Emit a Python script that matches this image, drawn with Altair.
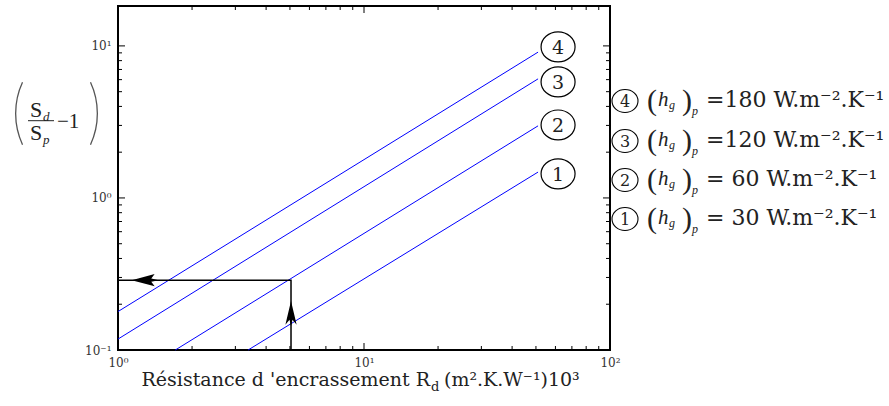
import altair as alt
import pandas as pd

# ---------------- data ----------------
line_ids = ["1", "2", "3", "4"]
rd_start = [3.38, 1.71, 1.0, 1.0]
s_start = [0.1, 0.1, 0.118, 0.179]
rd_end = [51.0, 51.0, 51.0, 51.0]
s_end = [1.48, 2.98, 6.07, 9.1]

label_rd = [61.5, 61.5, 61.5, 61.5]
label_s = [1.44, 3.02, 5.8, 9.85]

legend_ids = ["4", "3", "2", "1"]
legend_text = ["=180 W.m⁻².K⁻¹", "=120 W.m⁻².K⁻¹", "= 60 W.m⁻².K⁻¹", "= 30 W.m⁻².K⁻¹"]

guide_rd = [1.0, 5.05, 5.05]
guide_s = [0.288, 0.288, 0.1]

arrow_rd = [1.29, 5.05]
arrow_s = [0.288, 0.174]

x_label_values = [1, 10, 100]
y_label_values = [0.1, 1, 10]
x_major = [10]
x_minor = [2, 3, 4, 5, 6, 7, 8, 9, 20, 30, 40, 50, 60, 70, 80, 90]
y_major = [1, 10]
y_minor = [0.2, 0.3, 0.4, 0.5, 0.6, 0.7, 0.8, 0.9, 2, 3, 4, 5, 6, 7, 8, 9]

x_title_parts = ["Résistance d 'encrassement R", "d", "(m².K.W⁻¹)10³"]
y_title_parts = ["S", "d", "S", "p", "−1"]
hg_parts = ["(", "h", "g", ")", "p"]

# ---------------- layout / style ----------------
W, H = 492, 344
SERIF = "DejaVu Serif"
TIMES = "Liberation Serif"
INK = "#222222"
BLUE = "#0000ff"

xs = alt.Scale(type="log", domain=[1, 100], nice=False)
ys = alt.Scale(type="log", domain=[0.1, 18.3], nice=False)
xaxis = alt.Axis(values=x_label_values, ticks=False, domain=False, grid=False, title=None,
                 labelExpr="datum.value < 5 ? '10⁰' : datum.value < 50 ? '10¹' : '10²'",
                 labelFont=SERIF, labelFontSize=12, labelColor="#333333", labelPadding=7,
                 labelFlush=False, labelOverlap=False)
yaxis = alt.Axis(values=y_label_values, ticks=False, domain=False, grid=False, title=None,
                 labelExpr="datum.value < 0.5 ? '10⁻¹' : datum.value < 5 ? '10⁰' : '10¹'",
                 labelFont=SERIF, labelFontSize=12, labelColor="#333333", labelPadding=7,
                 labelFlush=False, labelOverlap=False)


def X(f):
    return alt.X(f"{f}:Q", scale=xs, axis=xaxis)


def Y(f):
    return alt.Y(f"{f}:Q", scale=ys, axis=yaxis)


layers = []

# blue lines
rows = []
for i, lid in enumerate(line_ids):
    rows.append({"id": lid, "rd": rd_start[i], "s": s_start[i]})
    rows.append({"id": lid, "rd": rd_end[i], "s": s_end[i]})
lines_df = pd.DataFrame(rows)
layers.append(alt.Chart(lines_df).mark_line(color=BLUE, strokeWidth=1).encode(
    x=X("rd"), y=Y("s"), detail="id:N"))

# black guide
guide_df = pd.DataFrame({"rd": guide_rd, "s": guide_s, "o": list(range(len(guide_rd)))})
layers.append(alt.Chart(guide_df).mark_line(color="black", strokeWidth=1.5).encode(
    x=X("rd"), y=Y("s"), order="o:Q"))

# arrowheads
LEFT_DART = "M -1 0 L 0.7 -0.45 L 0.45 -0.12 L 1 0 L 0.45 0.12 L 0.7 0.45 Z"
UP_DART = "M 0 -1 L 0.45 0.9 L 0.12 0.5 L 0 1 L -0.12 0.5 L -0.45 0.9 Z"
a0 = pd.DataFrame({"rd": [arrow_rd[0]], "s": [arrow_s[0]]})
a1 = pd.DataFrame({"rd": [arrow_rd[1]], "s": [arrow_s[1]]})
layers.append(alt.Chart(a0).mark_point(shape=LEFT_DART, filled=True, color="black", opacity=1,
                                       size=27 * 27).encode(x=X("rd"), y=Y("s")))
layers.append(alt.Chart(a1).mark_point(shape=UP_DART, filled=True, color="black", opacity=1,
                                       size=25 * 25).encode(x=X("rd"), y=Y("s")))

# circled labels at line ends
ELLIPSE = "M -1 0 A 1 0.88 0 1 1 1 0 A 1 0.88 0 1 1 -1 0 Z"
lab_df = pd.DataFrame({"id": line_ids, "rd": label_rd, "s": label_s})
layers.append(alt.Chart(lab_df).mark_point(shape=ELLIPSE, filled=False, color="black",
                                           strokeWidth=1.2, opacity=1, size=34 * 34).encode(
    x=X("rd"), y=Y("s")))
layers.append(alt.Chart(lab_df).mark_text(font=SERIF, fontSize=19, color=INK, baseline="middle",
                                          align="center", dy=1).encode(
    x=X("rd"), y=Y("s"), text="id:N"))

# inward ticks on four sides
def xticks(vals, length):
    d = pd.DataFrame({"v": vals})
    b = alt.Chart(d).mark_rule(color="black", strokeWidth=1).encode(
        x=X("v"), y=alt.value(H), y2=alt.value(H - length))
    t = alt.Chart(d).mark_rule(color="black", strokeWidth=1).encode(
        x=X("v"), y=alt.value(0), y2=alt.value(length))
    return [b, t]


def yticks(vals, length):
    d = pd.DataFrame({"v": vals})
    l = alt.Chart(d).mark_rule(color="black", strokeWidth=1).encode(
        y=Y("v"), x=alt.value(0), x2=alt.value(length))
    r = alt.Chart(d).mark_rule(color="black", strokeWidth=1).encode(
        y=Y("v"), x=alt.value(W), x2=alt.value(W - length))
    return [l, r]


layers += xticks(x_major, 7) + xticks(x_minor, 4) + yticks(y_major, 7) + yticks(y_minor, 4)

# legend on the right
leg_df = pd.DataFrame({"id": legend_ids, "txt": legend_text,
                       "ly": [95, 135, 174, 213],
                       "p0": [hg_parts[0]] * 4, "p1": [hg_parts[1]] * 4, "p2": [hg_parts[2]] * 4,
                       "p3": [hg_parts[3]] * 4, "p4": [hg_parts[4]] * 4})
LY = alt.Y("ly:Q", scale=None, axis=None)
layers.append(alt.Chart(leg_df).mark_point(shape=ELLIPSE, filled=False, color="black",
                                           strokeWidth=1.1, opacity=1, size=26 * 26).encode(
    x=alt.value(507), y=LY))
layers.append(alt.Chart(leg_df).mark_text(font=SERIF, fontSize=16, color=INK, baseline="middle",
                                          dy=1).encode(x=alt.value(507), y=LY, text="id:N"))
parts = [
    ("p0", 529, 9, TIMES, 30, "normal"),
    ("p1", 540, 5, TIMES, 21, "italic"),
    ("p2", 551, 8, TIMES, 12, "italic"),
    ("p3", 564, 9, TIMES, 30, "normal"),
    ("p4", 574, 14, TIMES, 12, "italic"),
    ("txt", 588, 6, SERIF, 22, "normal"),
]
for col, px, dy, font, size, style in parts:
    layers.append(alt.Chart(leg_df).mark_text(font=font, fontSize=size, fontStyle=style, color=INK,
                                              align="left", baseline="alphabetic", dy=dy).encode(
        x=alt.value(px), y=LY, text=f"{col}:N"))

# x title (with subscript)
one = pd.DataFrame({"a": [x_title_parts[0]], "b": [x_title_parts[1]], "c": [x_title_parts[2]],
                    "s1": [y_title_parts[0]], "s2": [y_title_parts[1]], "s3": [y_title_parts[2]],
                    "s4": [y_title_parts[3]], "s5": [y_title_parts[4]]})
layers.append(alt.Chart(one).mark_text(font=SERIF, fontSize=19, color=INK, align="right",
                                       baseline="alphabetic").encode(
    x=alt.value(312), y=alt.value(380), text="a:N"))
layers.append(alt.Chart(one).mark_text(font=SERIF, fontSize=13, color=INK, align="left",
                                       baseline="alphabetic").encode(
    x=alt.value(313), y=alt.value(385), text="b:N"))
layers.append(alt.Chart(one).mark_text(font=SERIF, fontSize=19, color=INK, align="left",
                                       baseline="alphabetic").encode(
    x=alt.value(326), y=alt.value(380), text="c:N"))

# y title: ( S_d / S_p - 1 )
for col, px, py, size, style in [("s1", -88, 111, 22, "normal"), ("s2", -75, 115, 13, "italic"),
                                  ("s3", -88, 134, 22, "normal"), ("s4", -75, 138, 13, "italic"),
                                  ("s5", -61, 122, 21, "normal")]:
    layers.append(alt.Chart(one).mark_text(font=TIMES, fontSize=size, fontStyle=style, color=INK,
                                           align="left", baseline="alphabetic").encode(
        x=alt.value(px), y=alt.value(py), text=f"{col}:N"))
layers.append(alt.Chart(one).mark_rule(color=INK, strokeWidth=1).encode(
    x=alt.value(-90), x2=alt.value(-64), y=alt.value(114.7)))
layers.append(alt.Chart(one).mark_arc(theta=4.712 - 0.433, theta2=4.712 + 0.433, radius=75,
                                      radius2=73.7, color="#555555").encode(
    x=alt.value(-28), y=alt.value(107.5)))
layers.append(alt.Chart(one).mark_arc(theta=1.571 - 0.433, theta2=1.571 + 0.433, radius=75,
                                      radius2=73.7, color="#555555").encode(
    x=alt.value(-95), y=alt.value(107.5)))

chart = alt.layer(*layers).properties(
    width=W, height=H,
    background="white",
    autosize=alt.AutoSizeParams(type="none"),
    padding={"left": 118, "top": 6, "right": 889 - 118 - W, "bottom": 406 - 6 - H},
).configure_view(stroke="black", strokeWidth=2)

chart.save("out.html", embed_options={"renderer": "svg", "actions": False})
